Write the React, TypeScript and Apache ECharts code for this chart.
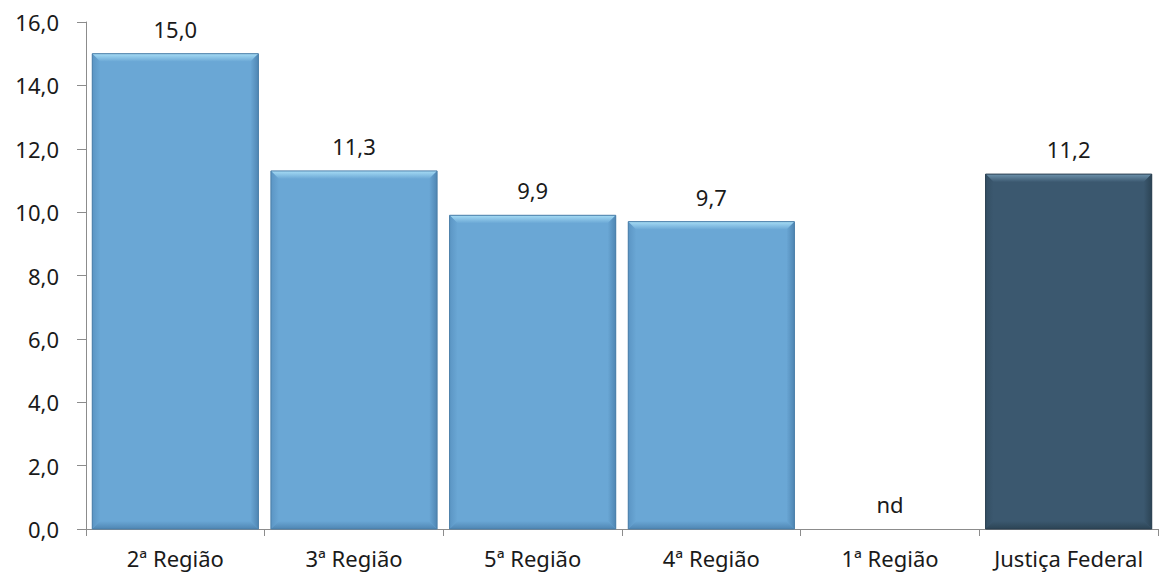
import React, { useEffect, useRef } from "react";
import * as echarts from "echarts";

const categories = ["2ª Região", "3ª Região", "5ª Região", "4ª Região", "1ª Região", "Justiça Federal"];
const values: (number | null)[] = [15.0, 11.3, 9.9, 9.7, null, 11.2];
const highlightIndex = 5;
const yTicks = { min: 0, max: 16, interval: 2 };

const BAR_GAP = 0.07;
const FONT = "'Noto Sans', sans-serif";

const palettes = {
  normal: { main: "#6aa7d5", top: "#a6dcf5", side: "#5b95c4", bottom: "#4f86b3", border: "#4a7ea8" },
  dark: { main: "#3b586f", top: "#6e93ad", side: "#344f64", bottom: "#2c4455", border: "#2a3f50" },
};

export default function App() {
  const ref = useRef<HTMLDivElement>(null);
  useEffect(() => {
    if (!ref.current) return;
    const chart = echarts.init(ref.current, undefined, { renderer: "svg" });
    const barData = values.map((v, i) => ({
      value: v === null ? 0 : v,
      itemStyle: {
        color: i === highlightIndex ? palettes.dark.main : palettes.normal.main,
        opacity: v === null ? 0 : 1,
      },
    }));
    const bevelData = values.map((v, i) => [i, v === null ? 0 : v, v === null ? 0 : 1]);
    chart.setOption({
      animation: false,
      grid: { left: 86, right: 2, top: 22, bottom: 47 },
      xAxis: {
        type: "category",
        data: categories,
        axisLine: { lineStyle: { color: "#8c8c8c", width: 1 } },
        axisTick: { show: true, length: 7, lineStyle: { color: "#8c8c8c" } },
        axisLabel: { color: "#1a1a1a", fontSize: 22, fontFamily: FONT, margin: 18, interval: 0, hideOverlap: false },
      },
      yAxis: {
        type: "value",
        min: yTicks.min,
        max: yTicks.max,
        interval: yTicks.interval,
        axisLine: { show: true, lineStyle: { color: "#8c8c8c", width: 1 } },
        axisTick: { show: true, length: 9, lineStyle: { color: "#8c8c8c" } },
        splitLine: { show: false },
        axisLabel: {
          color: "#1a1a1a",
          fontSize: 22,
          fontFamily: FONT,
          margin: 27,
          formatter: (v: number) => v.toFixed(1).replace(".", ","),
        },
      },
      series: [
        {
          type: "bar",
          data: barData,
          barCategoryGap: BAR_GAP * 100 + "%",
          label: {
            show: true,
            position: "top",
            distance: 14,
            color: "#1a1a1a",
            fontSize: 22,
            fontFamily: FONT,
            formatter: (p: any) => {
              const v = values[p.dataIndex];
              return v === null ? "nd" : v.toFixed(1).replace(".", ",");
            },
            opacity: 1,
          },
          z: 2,
        },
        {
          type: "custom",
          silent: true,
          z: 3,
          data: bevelData,
          renderItem: (params: any, api: any) => {
            if (api.value(2) === 0) return null;
            const idx = api.value(0);
            const pal = idx === highlightIndex ? palettes.dark : palettes.normal;
            const top = api.coord([idx, api.value(1)]);
            const base = api.coord([idx, 0]);
            const cw = api.size([1, 0])[0];
            const w = cw * (1 - BAR_GAP);
            const x0 = top[0] - w / 2;
            const x1 = top[0] + w / 2;
            const y0 = top[1];
            const y1 = base[1];
            const b = 8;
            return {
              type: "group",
              children: [
                {
                  type: "polygon",
                  shape: { points: [[x0, y0], [x1, y0], [x1 - b, y0 + b], [x0 + b, y0 + b]] },
                  style: {
                    fill: new echarts.graphic.LinearGradient(0, 0, 0, 1, [
                      { offset: 0, color: pal.top },
                      { offset: 1, color: pal.main },
                    ]),
                  },
                },
                {
                  type: "polygon",
                  shape: { points: [[x0, y0], [x0 + b, y0 + b], [x0 + b, y1 - b], [x0, y1]] },
                  style: {
                    fill: new echarts.graphic.LinearGradient(0, 0, 1, 0, [
                      { offset: 0, color: pal.side },
                      { offset: 1, color: pal.main },
                    ]),
                  },
                },
                {
                  type: "polygon",
                  shape: { points: [[x1, y0], [x1 - b, y0 + b], [x1 - b, y1 - b], [x1, y1]] },
                  style: {
                    fill: new echarts.graphic.LinearGradient(1, 0, 0, 0, [
                      { offset: 0, color: pal.bottom },
                      { offset: 1, color: pal.main },
                    ]),
                  },
                },
                {
                  type: "polygon",
                  shape: { points: [[x0, y1], [x0 + b, y1 - b], [x1 - b, y1 - b], [x1, y1]] },
                  style: {
                    fill: new echarts.graphic.LinearGradient(0, 1, 0, 0, [
                      { offset: 0, color: pal.bottom },
                      { offset: 1, color: pal.main },
                    ]),
                  },
                },
                {
                  type: "rect",
                  shape: { x: x0, y: y0, width: w, height: y1 - y0 },
                  style: { fill: "none", stroke: pal.border, lineWidth: 1 },
                },
              ],
            };
          },
        },
      ],
    });
    return () => chart.dispose();
  }, []);
  return (
    <div
      ref={ref}
      style={{ position: "absolute", left: 0, top: 0, width: 1160, height: 576, background: "#ffffff" }}
    />
  );
}
